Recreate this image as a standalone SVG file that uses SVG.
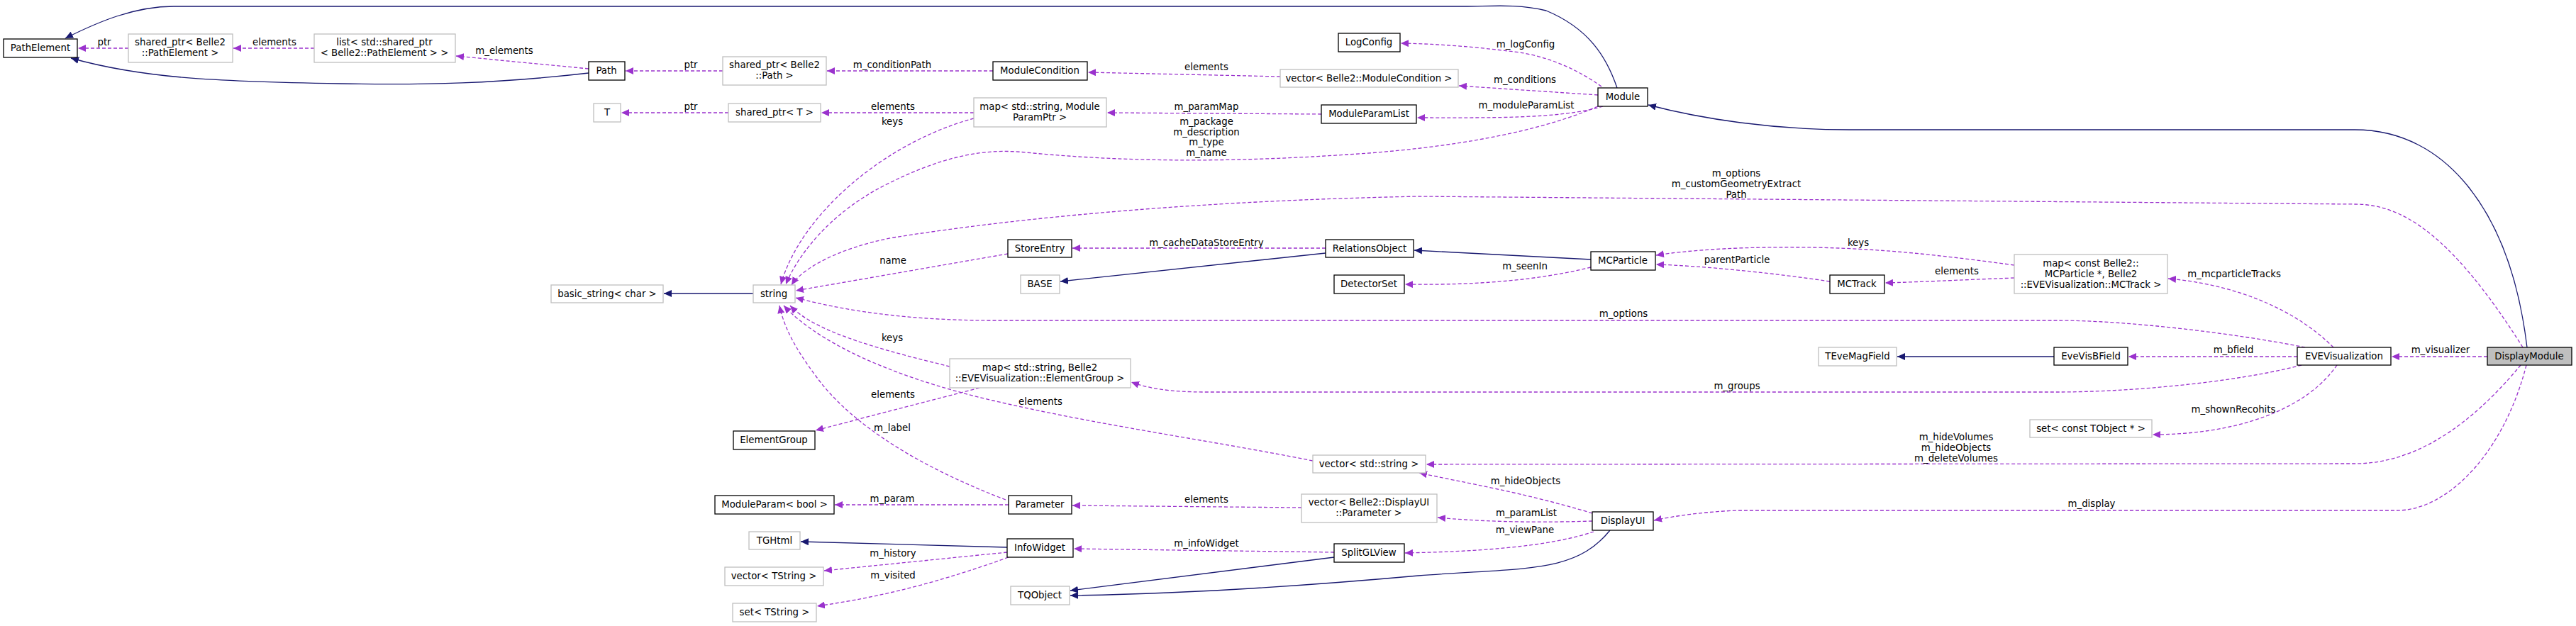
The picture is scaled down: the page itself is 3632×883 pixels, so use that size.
<svg xmlns="http://www.w3.org/2000/svg" width="3632" height="883" viewBox="0 0 3632 883">
<defs>
<marker id="ap" markerUnits="userSpaceOnUse" markerWidth="12" markerHeight="10" refX="11" refY="5" orient="auto"><path d="M0,0 L11,5 L0,10 Z" fill="#9a32cd"/></marker>
<marker id="an" markerUnits="userSpaceOnUse" markerWidth="12" markerHeight="10" refX="11" refY="5" orient="auto"><path d="M0,0 L11,5 L0,10 Z" fill="#191970"/></marker>
</defs>
<style>
text{font-family:"DejaVu Sans",sans-serif;font-size:13.3px;fill:#000;text-anchor:middle}
.d rect{fill:#fff;stroke:#000;stroke-width:1.3}
.u rect{fill:#fff;stroke:#bfbfbf;stroke-width:1.3}
.c rect{fill:#bfbfbf;stroke:#000;stroke-width:1.3}
.p{fill:none;stroke:#9a32cd;stroke-width:1.3;stroke-dasharray:5,3;marker-end:url(#ap)}
.n{fill:none;stroke:#191970;stroke-width:1.3;marker-end:url(#an)}
</style>
<rect width="3632" height="883" fill="#fff"/>
<g id="edges">
<path class="n" d="M2280,124 C2265,80 2240,40 2180,15 C2140,5 2100,9 2069,9 L245,9 C190,9 140,30 92,54"/>
<path class="n" d="M830,103 C700,118 600,120 480,118 C300,115 200,110 100,82"/>
<path class="p" d="M181,68 L110,68"/>
<path class="p" d="M443,68 L329,68"/>
<path class="p" d="M830,97 L643,79"/>
<path class="p" d="M1019,100 L882,100"/>
<path class="p" d="M1400,100 L1166,100"/>
<path class="p" d="M1805,108 L1534,102"/>
<path class="p" d="M2258,122 C2220,95 2180,80 2143,74 C2080,66 2030,62 1975,61"/>
<path class="p" d="M2253,134 L2057,121"/>
<path class="p" d="M2260,150 C2200,168 2100,166 1998,166"/>
<path class="p" d="M1863,161 L1561,159"/>
<path class="p" d="M1373,159 L1158,159"/>
<path class="p" d="M1027,159 L876,159"/>
<path class="p" d="M1373,167 C1250,200 1130,300 1101,401"/>
<path class="p" d="M2253,150 C2150,195 2000,212 1900,218 C1750,228 1600,230 1446,215 C1380,208 1320,225 1250,260 C1170,300 1125,360 1108,401"/>
<path class="p" d="M3557,490 C3450,320 3380,288 3320,288 L2000,277 C1700,283 1450,305 1260,335 C1180,350 1130,380 1116,402"/>
<path class="n" d="M3563,490 C3540,300 3450,183 3320,183 L2608,183 C2500,183 2400,168 2324,148"/>
<path class="p" d="M1869,350 L1512,350"/>
<path class="n" d="M1869,357 L1495,397"/>
<path class="n" d="M2243,366 L1994,353"/>
<path class="p" d="M2243,377 C2150,400 2050,402 1981,401"/>
<path class="p" d="M2840,374 C2700,355 2600,345 2450,350 C2400,352 2360,356 2335,360"/>
<path class="p" d="M2580,397 C2500,385 2400,375 2335,373"/>
<path class="p" d="M2840,392 C2760,395 2700,398 2658,399"/>
<path class="p" d="M1421,358 L1122,410"/>
<path class="n" d="M1062,414 L936,414"/>
<path class="p" d="M3290,490 C3230,430 3140,400 3057,393"/>
<path class="p" d="M3250,490 C3150,470 3000,452 2900,452 L1400,452 C1250,452 1160,430 1122,420"/>
<path class="n" d="M2896,503 L2675,503"/>
<path class="p" d="M3239,503 L3001,503"/>
<path class="p" d="M3507,503 L3372,503"/>
<path class="p" d="M3245,515 C3150,540 3000,553 2900,553 L1700,553 C1650,553 1620,548 1595,539"/>
<path class="p" d="M1339,517 C1250,495 1150,470 1114,431"/>
<path class="p" d="M1381,547 L1150,607"/>
<path class="p" d="M3295,515 C3250,580 3150,613 3035,613"/>
<path class="p" d="M3554,515 C3500,580 3420,654 3320,654 L2011,655"/>
<path class="p" d="M1851,650 C1700,620 1550,600 1400,565 C1250,530 1150,480 1105,431"/>
<path class="p" d="M3562,515 C3530,640 3450,720 3380,720 L2450,720 C2400,722 2360,728 2332,734"/>
<path class="p" d="M2245,724 C2150,695 2060,680 2001,667"/>
<path class="p" d="M2245,735 C2150,738 2080,735 2027,730"/>
<path class="p" d="M1835,716 L1512,713"/>
<path class="p" d="M1422,712 L1177,712"/>
<path class="p" d="M1418,705 C1300,660 1200,600 1150,530 C1120,490 1105,460 1099,431"/>
<path class="p" d="M2247,750 C2180,772 2080,778 1981,780"/>
<path class="n" d="M2270,748 C2220,810 2150,800 2000,812 C1800,830 1650,838 1509,840"/>
<path class="n" d="M1881,786 L1509,833"/>
<path class="p" d="M1881,779 L1514,774"/>
<path class="n" d="M1420,772 L1129,764"/>
<path class="p" d="M1420,779 L1162,805"/>
<path class="p" d="M1422,786 C1300,830 1220,845 1152,855"/>
</g>
<g id="edge-labels">
<text x="147" y="64">ptr</text>
<text x="387" y="64">elements</text>
<text x="711" y="76">m_elements</text>
<text x="974" y="96">ptr</text>
<text x="974" y="155">ptr</text>
<text x="1258" y="96">m_conditionPath</text>
<text x="1701" y="99">elements</text>
<text x="2151" y="67">m_logConfig</text>
<text x="2150" y="117">m_conditions</text>
<text x="2152" y="153">m_moduleParamList</text>
<text x="1259" y="155">elements</text>
<text x="1258" y="176">keys</text>
<text x="1701" y="155">m_paramMap</text>
<text x="1701" y="176">m_package</text>
<text x="1701" y="191">m_description</text>
<text x="1701" y="205">m_type</text>
<text x="1701" y="220">m_name</text>
<text x="2448" y="249">m_options</text>
<text x="2448" y="264">m_customGeometryExtract</text>
<text x="2448" y="279">Path</text>
<text x="1701" y="347">m_cacheDataStoreEntry</text>
<text x="1259" y="372">name</text>
<text x="2620" y="347">keys</text>
<text x="2449" y="371">parentParticle</text>
<text x="2150" y="380">m_seenIn</text>
<text x="2759" y="387">elements</text>
<text x="2289" y="447">m_options</text>
<text x="3150" y="391">m_mcparticleTracks</text>
<text x="3149" y="498">m_bfield</text>
<text x="3441" y="498">m_visualizer</text>
<text x="2449" y="549">m_groups</text>
<text x="1258" y="481">keys</text>
<text x="1259" y="561">elements</text>
<text x="1467" y="571">elements</text>
<text x="3149" y="582">m_shownRecohits</text>
<text x="1258" y="608">m_label</text>
<text x="2758" y="621">m_hideVolumes</text>
<text x="2758" y="636">m_hideObjects</text>
<text x="2758" y="651">m_deleteVolumes</text>
<text x="2151" y="683">m_hideObjects</text>
<text x="1258" y="708">m_param</text>
<text x="1701" y="709">elements</text>
<text x="2949" y="715">m_display</text>
<text x="2152" y="728">m_paramList</text>
<text x="2150" y="752">m_viewPane</text>
<text x="1701" y="771">m_infoWidget</text>
<text x="1259" y="785">m_history</text>
<text x="1259" y="816">m_visited</text>
</g>
<g id="PathElement" class="d"><rect x="5" y="55" width="104" height="26"/><text x="57" y="72">PathElement</text></g>
<g id="SharedPtrPathElement" class="u"><rect x="181" y="48" width="147" height="40"/><text x="254" y="64">shared_ptr&lt; Belle2</text><text x="254" y="79">::PathElement &gt;</text></g>
<g id="ListSharedPtr" class="u"><rect x="443" y="48" width="199" height="40"/><text x="542" y="64">list&lt; std::shared_ptr</text><text x="542" y="79">&lt; Belle2::PathElement &gt; &gt;</text></g>
<g id="Path" class="d"><rect x="830" y="87" width="51" height="26"/><text x="855" y="104">Path</text></g>
<g id="T" class="u"><rect x="837" y="146" width="38" height="26"/><text x="856" y="163">T</text></g>
<g id="BasicString" class="u"><rect x="777" y="402" width="158" height="25"/><text x="856" y="419">basic_string&lt; char &gt;</text></g>
<g id="SharedPtrPath" class="u"><rect x="1019" y="80" width="146" height="40"/><text x="1092" y="96">shared_ptr&lt; Belle2</text><text x="1092" y="111">::Path &gt;</text></g>
<g id="ModuleCondition" class="d"><rect x="1400" y="87" width="133" height="26"/><text x="1466" y="104">ModuleCondition</text></g>
<g id="LogConfig" class="d"><rect x="1887" y="47" width="87" height="26"/><text x="1930" y="64">LogConfig</text></g>
<g id="VectorModuleCondition" class="u"><rect x="1805" y="98" width="251" height="25"/><text x="1930" y="115">vector&lt; Belle2::ModuleCondition &gt;</text></g>
<g id="SharedPtrT" class="u"><rect x="1027" y="146" width="130" height="26"/><text x="1092" y="163">shared_ptr&lt; T &gt;</text></g>
<g id="MapModuleParamPtr" class="u"><rect x="1373" y="138" width="187" height="41"/><text x="1466" y="155">map&lt; std::string, Module</text><text x="1466" y="170">ParamPtr &gt;</text></g>
<g id="ModuleParamList" class="d"><rect x="1863" y="148" width="134" height="26"/><text x="1930" y="165">ModuleParamList</text></g>
<g id="Module" class="d"><rect x="2253" y="124" width="70" height="26"/><text x="2288" y="141">Module</text></g>
<g id="String" class="u"><rect x="1062" y="402" width="59" height="25"/><text x="1091" y="419">string</text></g>
<g id="StoreEntry" class="d"><rect x="1421" y="338" width="90" height="25"/><text x="1466" y="355">StoreEntry</text></g>
<g id="BASE" class="u"><rect x="1439" y="388" width="55" height="26"/><text x="1466" y="405">BASE</text></g>
<g id="RelationsObject" class="d"><rect x="1869" y="338" width="124" height="25"/><text x="1931" y="355">RelationsObject</text></g>
<g id="DetectorSet" class="d"><rect x="1881" y="388" width="99" height="26"/><text x="1930" y="405">DetectorSet</text></g>
<g id="MCParticle" class="d"><rect x="2243" y="355" width="91" height="26"/><text x="2288" y="372">MCParticle</text></g>
<g id="MCTrack" class="d"><rect x="2580" y="388" width="77" height="26"/><text x="2618" y="405">MCTrack</text></g>
<g id="MapMCParticle" class="u"><rect x="2840" y="359" width="216" height="55"/><text x="2948" y="376">map&lt; const Belle2::</text><text x="2948" y="391">MCParticle *, Belle2</text><text x="2948" y="406">::EVEVisualization::MCTrack &gt;</text></g>
<g id="TEveMagField" class="u"><rect x="2564" y="490" width="110" height="26"/><text x="2619" y="507">TEveMagField</text></g>
<g id="EveVisBField" class="d"><rect x="2896" y="490" width="104" height="25"/><text x="2948" y="507">EveVisBField</text></g>
<g id="EVEVisualization" class="d"><rect x="3239" y="490" width="132" height="25"/><text x="3305" y="507">EVEVisualization</text></g>
<g id="DisplayModule" class="c"><rect x="3507" y="490" width="119" height="25"/><text x="3566" y="507">DisplayModule</text></g>
<g id="MapElementGroup" class="u"><rect x="1339" y="506" width="255" height="41"/><text x="1466" y="523">map&lt; std::string, Belle2</text><text x="1466" y="538">::EVEVisualization::ElementGroup &gt;</text></g>
<g id="ElementGroup" class="d"><rect x="1034" y="608" width="115" height="26"/><text x="1091" y="625">ElementGroup</text></g>
<g id="SetTObject" class="u"><rect x="2862" y="592" width="172" height="25"/><text x="2948" y="609">set&lt; const TObject * &gt;</text></g>
<g id="VectorString" class="u"><rect x="1851" y="642" width="159" height="25"/><text x="1930" y="659">vector&lt; std::string &gt;</text></g>
<g id="ModuleParamBool" class="d"><rect x="1008" y="699" width="168" height="26"/><text x="1092" y="716">ModuleParam&lt; bool &gt;</text></g>
<g id="Parameter" class="d"><rect x="1422" y="699" width="89" height="26"/><text x="1466" y="716">Parameter</text></g>
<g id="VectorParameter" class="u"><rect x="1835" y="697" width="191" height="40"/><text x="1930" y="713">vector&lt; Belle2::DisplayUI</text><text x="1930" y="728">::Parameter &gt;</text></g>
<g id="DisplayUI" class="d"><rect x="2245" y="722" width="86" height="26"/><text x="2288" y="739">DisplayUI</text></g>
<g id="TGHtml" class="u"><rect x="1056" y="750" width="72" height="25"/><text x="1092" y="767">TGHtml</text></g>
<g id="InfoWidget" class="d"><rect x="1420" y="760" width="93" height="26"/><text x="1466" y="777">InfoWidget</text></g>
<g id="SplitGLView" class="d"><rect x="1881" y="767" width="99" height="26"/><text x="1930" y="784">SplitGLView</text></g>
<g id="VectorTString" class="u"><rect x="1022" y="800" width="139" height="26"/><text x="1091" y="817">vector&lt; TString &gt;</text></g>
<g id="TQObject" class="u"><rect x="1425" y="827" width="83" height="26"/><text x="1466" y="844">TQObject</text></g>
<g id="SetTString" class="u"><rect x="1033" y="851" width="118" height="26"/><text x="1092" y="868">set&lt; TString &gt;</text></g>
</svg>
